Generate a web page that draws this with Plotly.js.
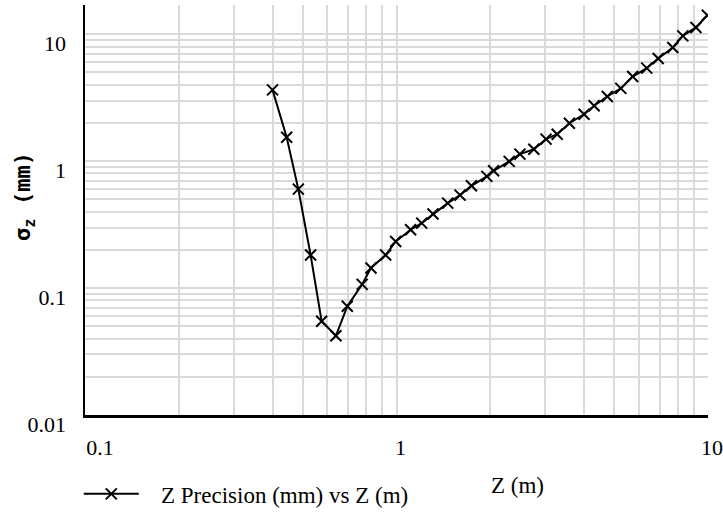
<!DOCTYPE html>
<html>
<head>
<meta charset="utf-8">
<script src="https://cdn.plot.ly/plotly-3.0.1.min.js"></script>
<style>html,body{margin:0;padding:0;background:#fff;}#chart{width:723px;height:520px;}</style>
</head>
<body>
<div id="chart"></div>
<script>
// Data
const zMeters = [0.400, 0.444, 0.484, 0.530, 0.575, 0.639, 0.695, 0.776, 0.828, 0.923, 0.994,
  1.11, 1.205, 1.31, 1.46, 1.60, 1.74, 1.95, 2.05, 2.30, 2.49, 2.76, 3.02, 3.28, 3.59, 4.00,
  4.31, 4.75, 5.25, 5.73, 6.36, 6.92, 7.71, 8.30, 9.15, 9.95];
const zPrecisionMm = [3.64, 1.54, 0.602, 0.182, 0.0547, 0.0421, 0.0718, 0.107, 0.144, 0.182, 0.233,
  0.288, 0.325, 0.383, 0.467, 0.540, 0.639, 0.758, 0.839, 0.995, 1.135, 1.24, 1.49, 1.63, 1.99, 2.34,
  2.73, 3.23, 3.74, 4.64, 5.40, 6.44, 7.86, 9.70, 11.3, 14.1];

const seriesName = '\u00a0\u00a0\u00a0Z Precision (mm) vs Z (m)';
const xTitle = 'Z (m)';
const yTitle = 'σ<sub>z</sub> (mm)';

const xTickVals = [0.1,0.2,0.3,0.4,0.5,0.6,0.7,0.8,0.9,1,2,3,4,5,6,7,8,9,10];
const xTickText = ['\u00a0\u00a0\u00a0\u00a00.1','','','','','','','','','1','','','','','','','','','10'];
const yTickVals = [0.01,0.02,0.03,0.04,0.05,0.06,0.07,0.08,0.09,0.1,0.2,0.3,0.4,0.5,0.6,0.7,0.8,0.9,1,2,3,4,5,6,7,8,9,10];
const yTickText = ['0.01','','','','','','','','','0.1','','','','','','','','','1','','','','','','','','','10'];

const serif = '"Liberation Serif", "Times New Roman", serif';

const trace = {
  x: zMeters,
  y: zPrecisionMm,
  type: 'scatter',
  mode: 'lines+markers',
  name: seriesName,
  line: {color: '#000', width: 2},
  marker: {symbol: 'x-thin', size: 11, color: '#000', line: {color: '#000', width: 2}}
};

const layout = {
  width: 723, height: 520,
  margin: {l: 85, r: 15, t: 5, b: 105, autoexpand: false},
  paper_bgcolor: '#fff', plot_bgcolor: '#fff',
  font: {family: serif, size: 22, color: '#000'},
  showlegend: true,
  legend: {orientation: 'h', x: -0.01, xanchor: 'left', y: -0.14, yanchor: 'top',
           font: {family: serif, size: 23, color: '#000'}, itemwidth: 55, bgcolor: 'rgba(0,0,0,0)'},
  xaxis: {
    type: 'log', range: [-1, 1],
    tickmode: 'array', tickvals: xTickVals, ticktext: xTickText,
    showgrid: true, gridcolor: '#dadada', gridwidth: 2,
    showline: true, linecolor: '#000', linewidth: 2.5, mirror: false,
    ticks: '', zeroline: false, ticklabeloverflow: 'allow',
    ticklabelstandoff: 11, ticklabelshift: 4,
    tickfont: {family: serif, size: 22, color: '#000'}
  },
  yaxis: {
    type: 'log', range: [-2, 1.23],
    tickmode: 'array', tickvals: yTickVals, ticktext: yTickText,
    showgrid: true, gridcolor: '#dadada', gridwidth: 2,
    showline: true, linecolor: '#000', linewidth: 2.5, mirror: false,
    ticks: '', zeroline: false, ticklabeloverflow: 'allow',
    ticklabelstandoff: 12, ticklabelshift: 9,
    tickfont: {family: serif, size: 22, color: '#000'}
  },
  annotations: [
    {text: xTitle, xref: 'paper', yref: 'paper', x: 0.695, y: -0.173, xanchor: 'center', yanchor: 'middle',
     showarrow: false, font: {family: serif, size: 23, color: '#000'}},
    {text: yTitle, xref: 'paper', yref: 'paper', x: -0.0963, y: 0.532, xanchor: 'center', yanchor: 'middle',
     textangle: -90, showarrow: false,
     font: {family: '"DejaVu Sans Mono", monospace', size: 22, color: '#000', weight: 'bold'}}
  ]
};

Plotly.newPlot('chart', [trace], layout, {displayModeBar: false, staticPlot: true});
</script>
</body>
</html>
